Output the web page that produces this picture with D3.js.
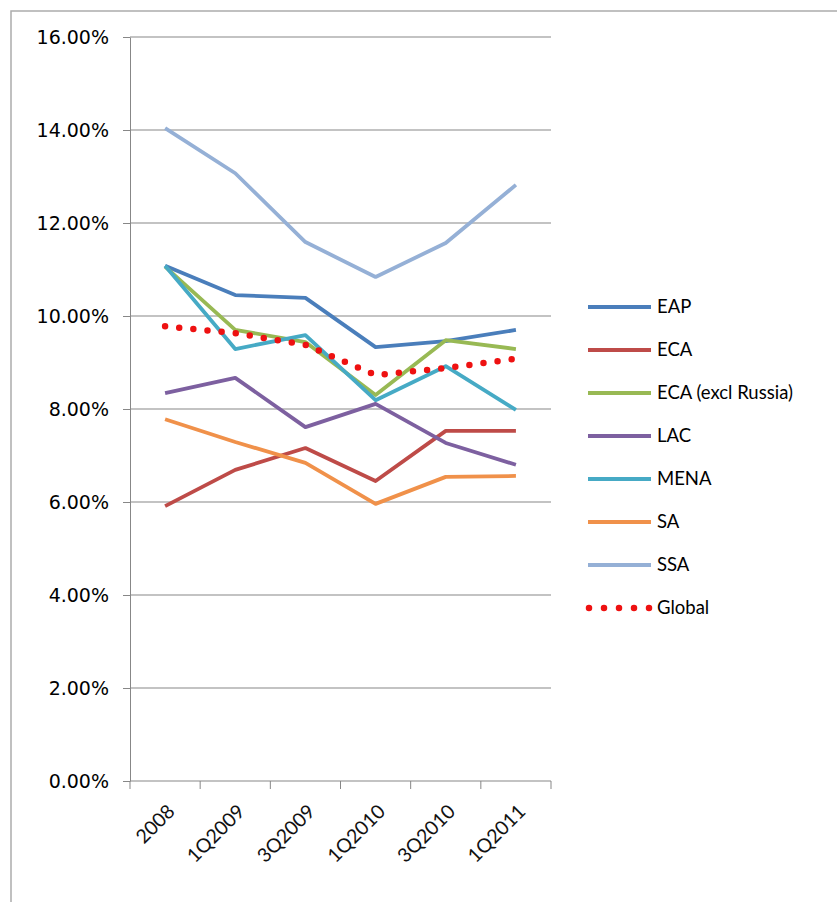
<!DOCTYPE html>
<html><head><meta charset="utf-8">
<script src="https://cdn.jsdelivr.net/npm/d3@7"></script>
<style>body{margin:0;background:#fff}svg{display:block}</style>
</head><body><svg id="c" width="837" height="902"></svg>
<script>
const categories = ["2008","1Q2009","3Q2009","1Q2010","3Q2010","1Q2011"];
const seriesNames = ["EAP","ECA","ECA (excl Russia)","LAC","MENA","SA","SSA","Global"];
const EAP    = [11.08,10.45,10.39,9.33,9.46,9.70];
const ECA    = [5.91,6.69,7.16,6.45,7.53,7.53];
const ECAx   = [11.06,9.70,9.44,8.30,9.48,9.29];
const LAC    = [8.34,8.67,7.61,8.11,7.27,6.80];
const MENA   = [11.08,9.29,9.59,8.19,8.92,7.98];
const SA     = [7.78,7.29,6.84,5.96,6.54,6.56];
const SSA    = [14.04,13.07,11.59,10.84,11.57,12.82];
const Global = [9.78,9.63,9.38,8.73,8.88,9.08];
const yTicks = [0,2,4,6,8,10,12,14,16];
const colors = ["#4a7ebb","#be4b48","#98b954","#7d60a0","#46aac5","#f0914a","#95b0d6","#ee1111"];
const values = [EAP,ECA,ECAx,LAC,MENA,SA,SSA,Global];

const svg = d3.select("#c");
// outer frame
svg.append("rect").attr("x",11).attr("y",11).attr("width",900).attr("height",1000)
  .attr("fill","none").attr("stroke","#acacac").attr("stroke-width",1.5);

const x = d3.scaleBand().domain(categories).range([130,551]);
const y = d3.scaleLinear().domain([0,16]).range([781,37]);

// gridlines
svg.append("g").selectAll("line").data(yTicks.filter(d=>d>0)).join("line")
  .attr("x1",130).attr("x2",551).attr("y1",d=>y(d)).attr("y2",d=>y(d))
  .attr("stroke","#878787").attr("stroke-width",1);

// y axis
const yAxis = svg.append("g").attr("transform","translate(130,0)")
  .call(d3.axisLeft(y).tickValues(yTicks).tickSize(7).tickSizeOuter(0).tickFormat(d=>d3.format(".2f")(d)+"%"));
yAxis.select(".domain").attr("stroke","#878787");
yAxis.selectAll(".tick line").attr("stroke","#878787");
yAxis.selectAll(".tick text").attr("x",-21).attr("fill","#000")
  .style("font-family","'DejaVu Sans', Verdana, sans-serif").style("font-size","19px");

// x axis
const xAxis = svg.append("g").attr("transform","translate(0,781)");
xAxis.append("line").attr("x1",130).attr("x2",551).attr("stroke","#878787");
const edges = categories.map(c=>x(c)).concat([x(categories[categories.length-1])+x.bandwidth()]);
xAxis.selectAll("line.t").data(edges).join("line").attr("class","t")
  .attr("x1",d=>d).attr("x2",d=>d).attr("y1",0).attr("y2",8).attr("stroke","#878787");
xAxis.selectAll("text").data(categories).join("text")
  .attr("transform",d=>`translate(${x(d)+x.bandwidth()/2+6},${27}) rotate(-45)`)
  .attr("text-anchor","end").attr("dy","0.35em")
  .style("font-family","Lato, 'Open Sans', sans-serif").style("font-size","19.5px").attr("fill","#111")
  .text(d=>d);

// lines
const line = d3.line().x((d,i)=>x(categories[i])+x.bandwidth()/2).y(d=>y(d));
values.forEach((vals,k)=>{
  const p = svg.append("path").datum(vals).attr("d",line).attr("fill","none")
    .attr("stroke",colors[k]).attr("stroke-linejoin","round");
  if (k===7) p.attr("stroke-width",6.5).attr("stroke-dasharray","0 14.2").attr("stroke-linecap","round");
  else p.attr("stroke-width",3.8);
});

// legend
const lg = svg.append("g");
seriesNames.forEach((n,k)=>{
  const yy = 307 + k*43;
  const l = lg.append("line").attr("x1",588).attr("x2",651).attr("y1",yy).attr("y2",yy).attr("stroke",colors[k]);
  if (k===7) l.attr("x1",589).attr("stroke-width",6.5).attr("stroke-dasharray","0 15").attr("stroke-linecap","round");
  else l.attr("stroke-width",3.8);
  lg.append("text").attr("x",657).attr("y",yy).attr("dy","0.35em")
    .style("font-family","Lato, 'Open Sans', sans-serif").style("font-size","18.5px").attr("fill","#000").text(n);
});
</script></body></html>
